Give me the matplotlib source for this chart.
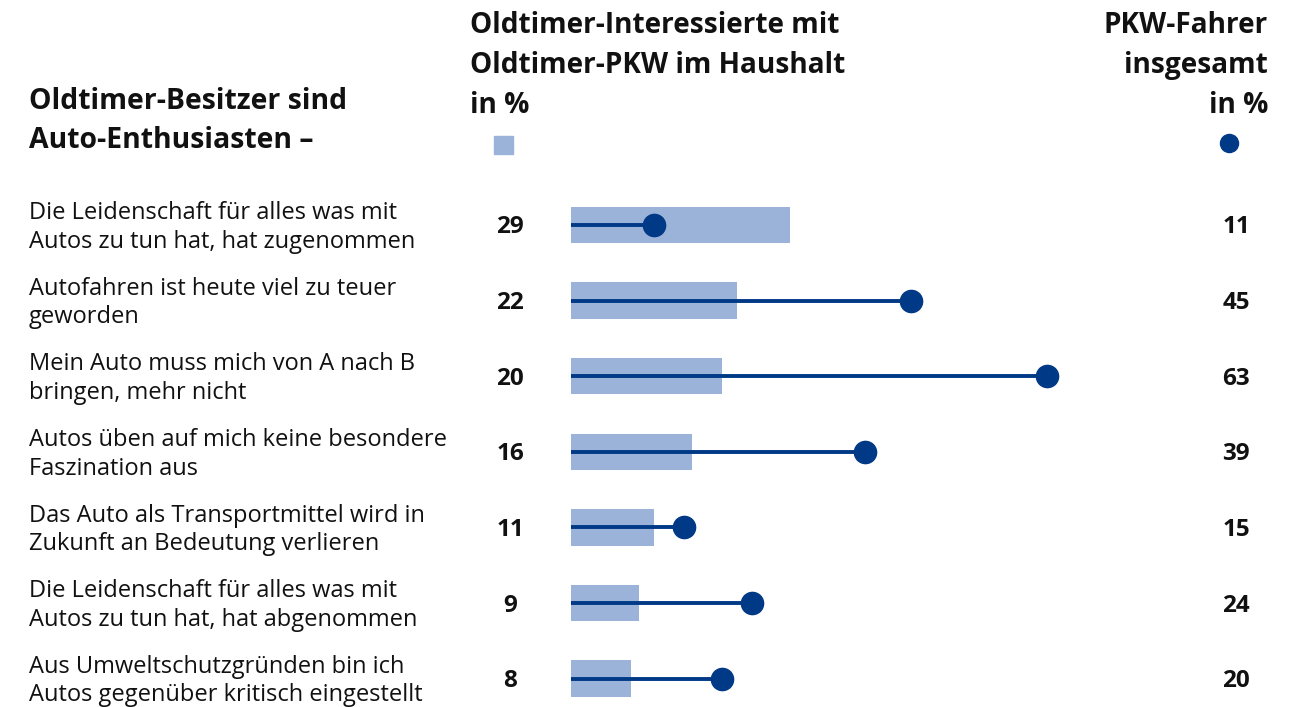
import matplotlib
matplotlib.use("Agg")
import matplotlib.pyplot as plt
from matplotlib.patches import Rectangle

labels = [
    "Die Leidenschaft für alles was mit\nAutos zu tun hat, hat zugenommen",
    "Autofahren ist heute viel zu teuer\ngeworden",
    "Mein Auto muss mich von A nach B\nbringen, mehr nicht",
    "Autos üben auf mich keine besondere\nFaszination aus",
    "Das Auto als Transportmittel wird in\nZukunft an Bedeutung verlieren",
    "Die Leidenschaft für alles was mit\nAutos zu tun hat, hat abgenommen",
    "Aus Umweltschutzgründen bin ich\nAutos gegenüber kritisch eingestellt",
]
oldtimer = [29, 22, 20, 16, 11, 9, 8]
pkw = [11, 45, 63, 39, 15, 24, 20]

title_left = "Oldtimer-Besitzer sind\nAuto-Enthusiasten –"
header_mid = "Oldtimer-Interessierte mit\nOldtimer-PKW im Haushalt\nin %"
header_right = "PKW-Fahrer\ninsgesamt\nin %"

LIGHT = "#9bb3d9"
DARK = "#003986"
FONT = "Open Sans"

W, H = 1300, 707
fig = plt.figure(figsize=(W / 100, H / 100), dpi=100)
ax = fig.add_axes([0, 0, 1, 1])
ppu = 7.55      # pixels per percent
x0 = 571        # pixel of 0 %
row0, rowh = 225, 75.6
ax.set_xlim(-x0 / ppu, (W - x0) / ppu)
ax.set_ylim((H - row0) / rowh, -row0 / rowh)
ax.axis("off")

def px(x):
    return (x - x0) / ppu

def py(y):
    return (y - row0) / rowh

dy = 2.5 / rowh
for i, (o, p) in enumerate(zip(oldtimer, pkw)):
    ax.barh(i, o, height=0.48, left=0, color=LIGHT, zorder=1)
    ax.plot([0, p], [i, i], color=DARK, lw=2.8, zorder=2, solid_capstyle="butt")
    ax.plot([p], [i], "o", color=DARK, ms=16, zorder=3)
    ax.text(px(29), i + dy, labels[i], ha="left", va="center", fontsize=17,
            family=FONT, linespacing=1.25, color="#111111")
    ax.text(px(510), i + dy, str(o), ha="center", va="center", fontsize=17.5,
            family=FONT, fontweight="bold", color="#111111")
    ax.text(px(1236), i + dy, str(p), ha="center", va="center", fontsize=17.5,
            family=FONT, fontweight="bold", color="#111111")

ax.text(px(29), py(121), title_left, ha="left", va="center", fontsize=20.4,
        family=FONT, fontweight="bold", linespacing=1.45, color="#111111")
ax.text(px(470), py(66), header_mid, ha="left", va="center", fontsize=20.2,
        family=FONT, fontweight="bold", linespacing=1.5, color="#111111")
ax.text(px(1268), py(66), header_right, ha="right", va="center", fontsize=20.2,
        family=FONT, fontweight="bold", linespacing=1.5, color="#111111")

# legend markers
ax.add_patch(Rectangle((px(494), py(136)), 19 / ppu, 18 / rowh, color=LIGHT))
ax.plot([px(1229)], [py(143)], "o", color=DARK, ms=13)

fig.savefig("out.png", dpi=100)
